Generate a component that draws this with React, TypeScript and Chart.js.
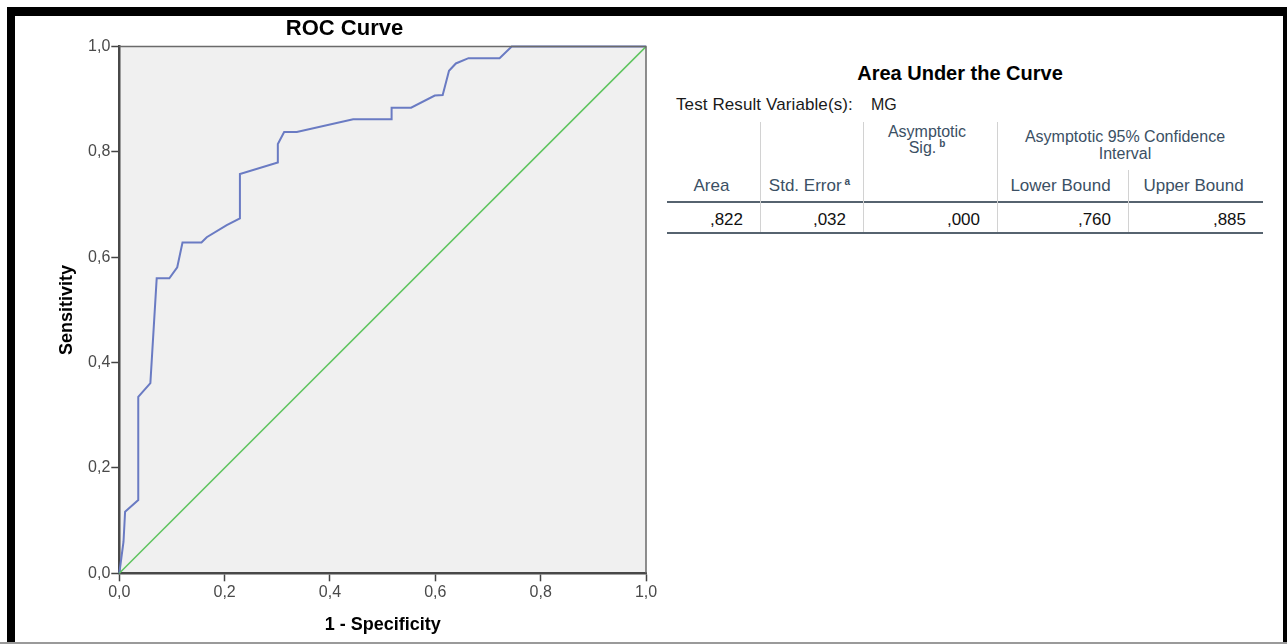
import React, { useEffect, useRef } from "react";
import { Chart, registerables } from "chart.js";

Chart.register(...registerables);

// ROC curve (1 - specificity, sensitivity)
const fpr = [0, 0.004, 0.008, 0.011, 0.036, 0.036, 0.059, 0.071, 0.095, 0.110, 0.120, 0.156, 0.166, 0.204, 0.229, 0.229, 0.301, 0.301, 0.313, 0.337, 0.444, 0.517, 0.517, 0.554, 0.599, 0.614, 0.626, 0.639, 0.663, 0.722, 0.745, 1.0];
const tpr = [0, 0.030, 0.060, 0.117, 0.139, 0.335, 0.361, 0.560, 0.560, 0.581, 0.628, 0.628, 0.638, 0.661, 0.674, 0.758, 0.780, 0.815, 0.838, 0.838, 0.862, 0.862, 0.884, 0.884, 0.907, 0.908, 0.954, 0.968, 0.978, 0.978, 1.0, 1.0];
// reference diagonal
const refX = [0, 1];
const refY = [0, 1];
const tickLabels = ["0,0", "0,2", "0,4", "0,6", "0,8", "1,0"];

// AUC table
const tableTitle = "Area Under the Curve";
const testVarLabel = "Test Result Variable(s):";
const testVar = "MG";
const colHeaders = ["Area", "Std. Error", "", "Lower Bound", "Upper Bound"];
const aucValues = [",822", ",032", ",000", ",760", ",885"];

const FONT = "'Liberation Sans', Arial, Helvetica, sans-serif";

const plotFrame = {
  id: "plotFrame",
  beforeDraw(chart: any) {
    const { ctx, chartArea: a } = chart;
    ctx.save();
    ctx.fillStyle = "#f0f0f0";
    ctx.fillRect(a.left, a.top, a.right - a.left, a.bottom - a.top);
    ctx.restore();
  },
  afterDatasetsDraw(chart: any) {
    const { ctx, chartArea: a } = chart;
    ctx.save();
    ctx.strokeStyle = "#6a6a6a";
    ctx.lineWidth = 1.5;
    ctx.beginPath();
    ctx.moveTo(a.left, a.top);
    ctx.lineTo(a.right, a.top);
    ctx.lineTo(a.right, a.bottom);
    ctx.stroke();
    ctx.restore();
  },
};

function ROCChart() {
  const ref = useRef<HTMLCanvasElement | null>(null);
  useEffect(() => {
    if (!ref.current) return;
    const tickCb = (v: any) => {
      const i = Math.round(Number(v) * 5);
      return tickLabels[i] ?? "";
    };
    const chart = new Chart(ref.current, {
      type: "scatter",
      data: {
        datasets: [
          {
            data: refX.map((x, i) => ({ x, y: refY[i] })),
            showLine: true,
            borderColor: "#5ec45e",
            borderWidth: 1.5,
            pointRadius: 0,
            clip: false as any,
          },
          {
            data: fpr.map((x, i) => ({ x, y: tpr[i] })),
            showLine: true,
            borderColor: "#6a7bc3",
            borderWidth: 2,
            pointRadius: 0,
            clip: false as any,
          },
        ],
      },
      options: {
        responsive: false,
        animation: false,
        layout: { padding: { left: 0, right: 14, top: 0, bottom: 0 } },
        plugins: {
          legend: { display: false },
          tooltip: { enabled: false },
          title: {
            display: true,
            text: "ROC Curve",
            color: "#000",
            font: { family: FONT, size: 22, weight: "bold" },
            padding: { top: 0, bottom: 4.2 },
          },
        },
        scales: {
          x: {
            type: "linear",
            min: 0,
            max: 1,
            afterFit: (s: any) => {
              s.height = 68.7;
            },
            ticks: {
              stepSize: 0.2,
              callback: tickCb,
              color: "#4a4a4a",
              font: { family: FONT, size: 16 },
              padding: 2,
              maxRotation: 0,
            },
            grid: {
              drawOnChartArea: false,
              drawTicks: true,
              tickLength: 8,
              tickColor: "#444",
              tickWidth: 1.5,
            },
            border: { color: "#484848", width: 2.5 },
            title: {
              display: true,
              text: "1 - Specificity",
              color: "#000",
              font: { family: FONT, size: 18, weight: "bold" },
              padding: { top: 0, bottom: 6 },
            },
          },
          y: {
            type: "linear",
            min: 0,
            max: 1,
            afterFit: (s: any) => {
              s.width = 76.3;
            },
            ticks: {
              stepSize: 0.2,
              callback: tickCb,
              color: "#4a4a4a",
              font: { family: FONT, size: 16 },
              padding: 1,
            },
            grid: {
              drawOnChartArea: false,
              drawTicks: true,
              tickLength: 8,
              tickColor: "#444",
              tickWidth: 1.5,
            },
            border: { color: "#484848", width: 2.5 },
            title: {
              display: true,
              text: "Sensitivity",
              color: "#000",
              font: { family: FONT, size: 18, weight: "bold" },
              padding: { top: 13.2, bottom: 0 },
            },
          },
        },
      } as any,
      plugins: [plotFrame],
    });
    return () => chart.destroy();
  }, []);
  return (
    <canvas
      ref={ref}
      width={617}
      height={626}
      style={{ position: "absolute", left: 43, top: 16, width: 617, height: 626 }}
    />
  );
}

const hdrColor = "#3b5064";
const colEdges = [667, 760, 863, 997, 1128, 1263];

function Txt(props: {
  left: number;
  width?: number;
  cy: number;
  align?: "left" | "center" | "right";
  size?: number;
  bold?: boolean;
  color?: string;
  children: React.ReactNode;
}) {
  const size = props.size ?? 17;
  return (
    <div
      style={{
        position: "absolute",
        left: props.left,
        width: props.width ?? 400,
        top: props.cy - 10,
        height: 20,
        lineHeight: "20px",
        textAlign: props.align ?? "left",
        fontFamily: FONT,
        fontSize: size,
        fontWeight: props.bold ? "bold" : "normal",
        color: props.color ?? "#111",
        whiteSpace: "nowrap",
      }}
    >
      {props.children}
    </div>
  );
}

function AucTable() {
  const sup = (t: string) => (
    <sup style={{ fontSize: 10, fontWeight: "bold", verticalAlign: "6px", lineHeight: 0, marginLeft: 3 }}>{t}</sup>
  );
  return (
    <>
      <Txt left={760} width={400} cy={73} align="center" size={20} bold color="#000">
        {tableTitle}
      </Txt>
      <Txt left={676} cy={105} color="#1a1a1a">
        <span style={{ letterSpacing: "0.1px" }}>{testVarLabel}</span>
      </Txt>
      <Txt left={871} cy={105} size={16} color="#1a1a1a">
        {testVar}
      </Txt>
      {/* row 1 headers */}
      <Txt left={colEdges[2]} width={colEdges[3] - colEdges[2] - 6} cy={132} align="center" size={16} color={hdrColor}>
        Asymptotic
      </Txt>
      <Txt left={colEdges[2]} width={colEdges[3] - colEdges[2] - 6} cy={148} align="center" size={16} color={hdrColor}>
        Sig.{sup("b")}
      </Txt>
      <Txt left={colEdges[3]} width={colEdges[5] - colEdges[3] - 10} cy={137} align="center" size={16} color={hdrColor}>
        Asymptotic 95% Confidence
      </Txt>
      <Txt left={colEdges[3]} width={colEdges[5] - colEdges[3] - 10} cy={154} align="center" size={16} color={hdrColor}>
        Interval
      </Txt>
      {/* row 2 headers */}
      {colHeaders.map((h, i) =>
        h ? (
          <Txt key={i} left={colEdges[i]} width={colEdges[i + 1] - colEdges[i] - 4} cy={186} align="center" color={hdrColor}>
            {h}
            {i === 1 ? sup("a") : null}
          </Txt>
        ) : null
      )}
      {/* values */}
      {aucValues.map((v, i) => (
        <Txt key={i} left={colEdges[i]} width={colEdges[i + 1] - colEdges[i] - 17} cy={220} align="right" color="#111">
          {v}
        </Txt>
      ))}
      {/* lines */}
      <div style={{ position: "absolute", left: 667, top: 201, width: 596, height: 2, background: "#56636f" }} />
      <div style={{ position: "absolute", left: 667, top: 232, width: 596, height: 2, background: "#56636f" }} />
      {[760, 863, 997].map((x) => (
        <div key={x} style={{ position: "absolute", left: x, top: 122, width: 1, height: 110, background: "#d2d2d2" }} />
      ))}
      <div style={{ position: "absolute", left: 1128, top: 170, width: 1, height: 62, background: "#d2d2d2" }} />
    </>
  );
}

export default function App() {
  useEffect(() => {
    document.body.style.margin = "0";
  }, []);
  return (
    <div
      style={{
        position: "absolute",
        left: 0,
        top: 0,
        width: 1287,
        height: 644,
        overflow: "hidden",
        background: "#fff",
      }}
    >
      <div style={{ position: "absolute", left: 7, top: 7, width: 1280, height: 637, background: "#000" }} />
      <div style={{ position: "absolute", left: 15, top: 16, width: 1268, height: 626, background: "#fff" }} />
      <div style={{ position: "absolute", left: 0, top: 642, width: 1287, height: 2, background: "#9a9a9a" }} />
      <ROCChart />
      <AucTable />
    </div>
  );
}
